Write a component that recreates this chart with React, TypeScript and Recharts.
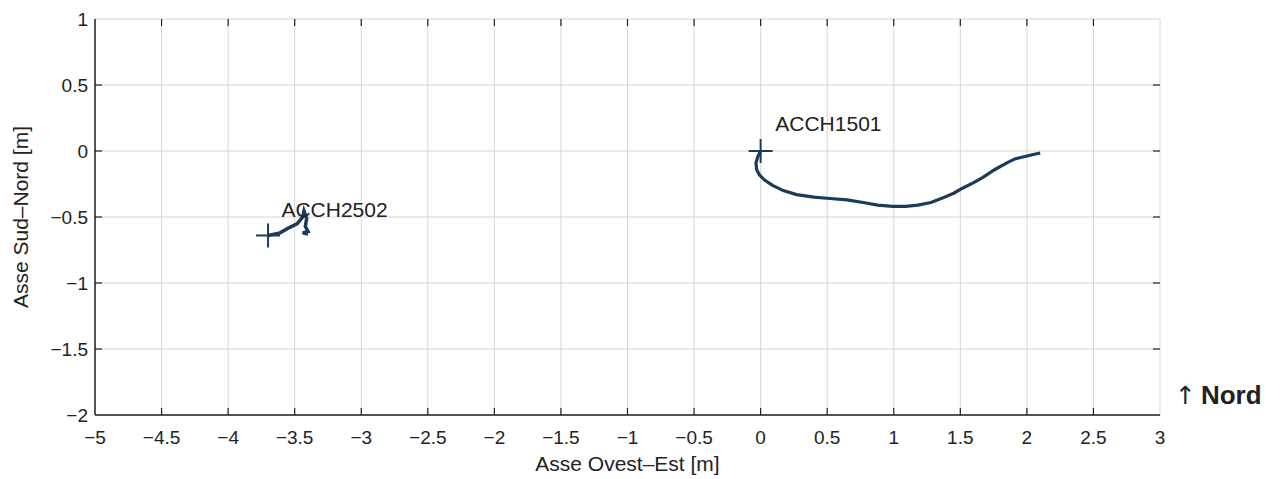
import React from 'react';
import { ScatterChart, Scatter, XAxis, YAxis, CartesianGrid, ReferenceLine } from 'recharts';

// Tracce di spostamento in pianta [m]
const acch1501 = [
  { x: 0, y: 0 },
  { x: -0.02, y: -0.04 },
  { x: -0.035, y: -0.09 },
  { x: -0.03, y: -0.14 },
  { x: -0.01, y: -0.18 },
  { x: 0.03, y: -0.22 },
  { x: 0.09, y: -0.26 },
  { x: 0.17, y: -0.3 },
  { x: 0.27, y: -0.33 },
  { x: 0.4, y: -0.35 },
  { x: 0.52, y: -0.36 },
  { x: 0.65, y: -0.37 },
  { x: 0.77, y: -0.39 },
  { x: 0.88, y: -0.41 },
  { x: 0.99, y: -0.42 },
  { x: 1.09, y: -0.42 },
  { x: 1.18, y: -0.41 },
  { x: 1.28, y: -0.39 },
  { x: 1.37, y: -0.355 },
  { x: 1.45, y: -0.32 },
  { x: 1.52, y: -0.28 },
  { x: 1.6, y: -0.24 },
  { x: 1.67, y: -0.2 },
  { x: 1.76, y: -0.14 },
  { x: 1.85, y: -0.09 },
  { x: 1.91, y: -0.06 },
  { x: 1.97, y: -0.045 },
  { x: 2.04, y: -0.028 },
  { x: 2.1, y: -0.015 },
];

const acch2502 = [
  { x: -3.7, y: -0.64 },
  { x: -3.61, y: -0.62 },
  { x: -3.54, y: -0.58 },
  { x: -3.48, y: -0.55 },
  { x: -3.44, y: -0.5 },
  { x: -3.43, y: -0.455 },
  { x: -3.41, y: -0.51 },
  { x: -3.42, y: -0.57 },
  { x: -3.4, y: -0.61 },
  { x: -3.44, y: -0.62 },
  { x: -3.4, y: -0.63 },
];

// punti di partenza (croci)
const startPoints = [
  { x: 0, y: 0 },
  { x: -3.7, y: -0.64 },
];

const sensorLabels = [
  { x: 0.11, y: 0.15, name: 'ACCH1501' },
  { x: -3.6, y: -0.5, name: 'ACCH2502' },
];

const xTicks = [-5, -4.5, -4, -3.5, -3, -2.5, -2, -1.5, -1, -0.5, 0, 0.5, 1, 1.5, 2, 2.5, 3];
const yTicks = [-2, -1.5, -1, -0.5, 0, 0.5, 1];

const X_DOMAIN: [number, number] = [-5, 3];
const Y_DOMAIN: [number, number] = [-2, 1];
// lunghezza dei tick interni, in unità di dati (~7 px)
const X_TICK_LEN = 7 / 133;
const Y_TICK_LEN = 7 / 132;

const FONT = '"Liberation Sans", Arial, Helvetica, sans-serif';
const INK = '#222';
const TRACE = '#1c3b5c';

const fmt = (v: number) => (v < 0 ? '\u2212' + Math.abs(v) : String(v));

const BottomTick = ({ x, y, payload }: any) => (
  <text x={x} y={y + 29} textAnchor="middle" fontSize={19} fill={INK} fontFamily={FONT}>
    {fmt(payload.value)}
  </text>
);

const LeftTick = ({ x, y, payload }: any) => (
  <text x={x - 7} y={y + 7} textAnchor="end" fontSize={19} fill={INK} fontFamily={FONT}>
    {fmt(payload.value)}
  </text>
);

const NoDot = () => <g />;

const PlusMark = ({ cx, cy }: any) => (
  <g stroke={TRACE} strokeWidth={2}>
    <line x1={cx - 12} x2={cx + 12} y1={cy} y2={cy} />
    <line x1={cx} x2={cx} y1={cy - 12} y2={cy + 12} />
  </g>
);

const NameMark = ({ cx, cy, payload }: any) => (
  <text x={cx} y={cy} fontSize={21} fill={INK} fontFamily={FONT}>
    {payload.name}
  </text>
);

const YTitle = ({ viewBox }: any) => {
  const cx = viewBox.x + 5;
  const cy = viewBox.y + viewBox.height / 2;
  return (
    <text
      x={cx}
      y={cy}
      transform={`rotate(-90, ${cx}, ${cy})`}
      textAnchor="middle"
      dominantBaseline="central"
      fontSize={21}
      fill={INK}
      fontFamily={FONT}
    >
      Asse Sud–Nord [m]
    </text>
  );
};

const innerX = xTicks.slice(1, -1);
const innerY = yTicks.slice(1, -1);

export default function App() {
  return (
    <div style={{ position: 'relative', width: 1281, height: 479, background: '#fff' }}>
      <style>{'body{margin:0}'}</style>
      <ScatterChart width={1281} height={479} margin={{ top: 19, right: 121, bottom: 4, left: 15 }}>
        <CartesianGrid stroke="#d6d6d6" strokeWidth={1} />
        <XAxis
          type="number"
          dataKey="x"
          domain={X_DOMAIN}
          ticks={xTicks}
          height={60}
          tickSize={0}
          tickMargin={0}
          tickLine={false}
          axisLine={{ stroke: INK, strokeWidth: 1.5 }}
          tick={<BottomTick />}
          interval={0}
          allowDataOverflow
          label={{ value: 'Asse Ovest–Est [m]', position: 'insideBottom', offset: 4, fontSize: 21, fill: INK, fontFamily: FONT }}
        />
        <XAxis
          xAxisId="top"
          orientation="top"
          type="number"
          dataKey="x"
          domain={X_DOMAIN}
          height={0}
          tick={false}
          tickLine={false}
          axisLine={{ stroke: INK, strokeWidth: 1.5 }}
          allowDataOverflow
        />
        <YAxis
          type="number"
          dataKey="y"
          domain={Y_DOMAIN}
          ticks={yTicks}
          width={80}
          tickSize={0}
          tickMargin={0}
          tickLine={false}
          axisLine={{ stroke: INK, strokeWidth: 1.5 }}
          tick={<LeftTick />}
          interval={0}
          allowDataOverflow
          label={<YTitle />}
        />
        <YAxis
          yAxisId="right"
          orientation="right"
          type="number"
          dataKey="y"
          domain={Y_DOMAIN}
          width={0}
          tick={false}
          tickLine={false}
          axisLine={{ stroke: INK, strokeWidth: 1.5 }}
          allowDataOverflow
        />

        {/* tick interni sui quattro lati */}
        {innerX.map((t) => (
          <ReferenceLine
            key={`xb${t}`}
            segment={[{ x: t, y: Y_DOMAIN[0] }, { x: t, y: Y_DOMAIN[0] + Y_TICK_LEN }]}
            stroke={INK}
            strokeWidth={1.2}
          />
        ))}
        {innerX.map((t) => (
          <ReferenceLine
            key={`xt${t}`}
            segment={[{ x: t, y: Y_DOMAIN[1] }, { x: t, y: Y_DOMAIN[1] - Y_TICK_LEN }]}
            stroke={INK}
            strokeWidth={1.2}
          />
        ))}
        {innerY.map((t) => (
          <ReferenceLine
            key={`yl${t}`}
            segment={[{ x: X_DOMAIN[0], y: t }, { x: X_DOMAIN[0] + X_TICK_LEN, y: t }]}
            stroke={INK}
            strokeWidth={1.2}
          />
        ))}
        {innerY.map((t) => (
          <ReferenceLine
            key={`yr${t}`}
            segment={[{ x: X_DOMAIN[1], y: t }, { x: X_DOMAIN[1] - X_TICK_LEN, y: t }]}
            stroke={INK}
            strokeWidth={1.2}
          />
        ))}

        <Scatter
          data={acch1501}
          line={{ stroke: TRACE, strokeWidth: 3.2 }}
          lineType="joint"
          shape={<NoDot />}
          isAnimationActive={false}
        />
        <Scatter
          data={acch2502}
          line={{ stroke: TRACE, strokeWidth: 3.5 }}
          lineType="joint"
          shape={<NoDot />}
          isAnimationActive={false}
        />
        <Scatter data={startPoints} shape={<PlusMark />} isAnimationActive={false} />
        <Scatter data={sensorLabels} shape={<NameMark />} isAnimationActive={false} />
      </ScatterChart>
      <div
        style={{
          position: 'absolute',
          left: 1175,
          top: 379,
          color: INK,
          whiteSpace: 'nowrap',
          lineHeight: '32px',
        }}
      >
        <span style={{ fontFamily: '"DejaVu Sans", sans-serif', fontSize: 25 }}>↑</span>
        <b style={{ fontFamily: FONT, fontSize: 26, marginLeft: 5 }}>Nord</b>
      </div>
    </div>
  );
}
